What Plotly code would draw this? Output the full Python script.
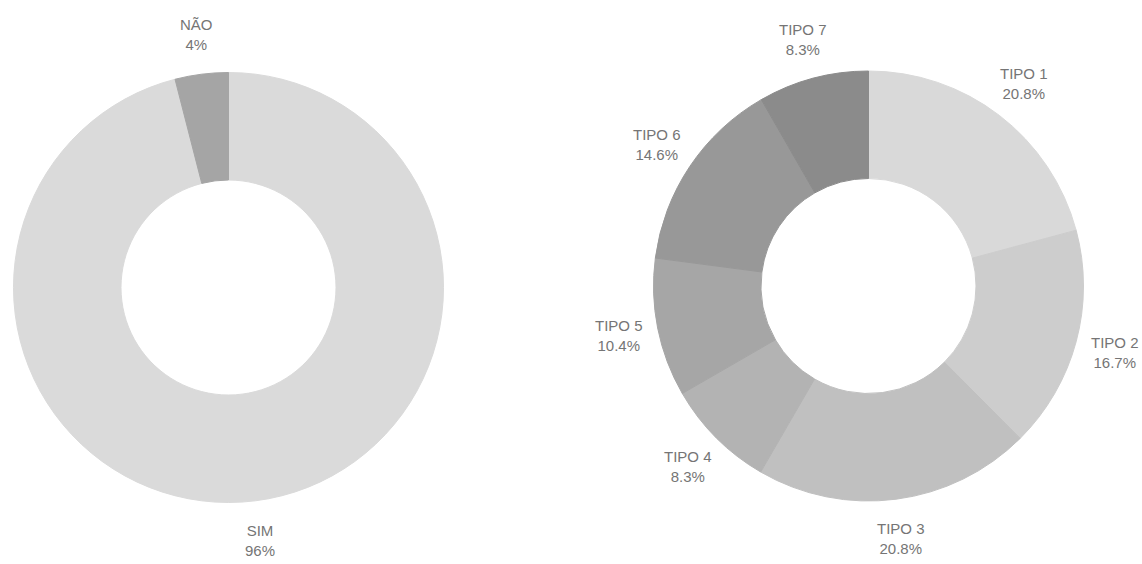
import math
import plotly.graph_objects as go

resp_labels = ["SIM", "NÃO"]
resp_values = [96, 4]
resp_text = ["96%", "4%"]
resp_colors = ["#dadada", "#a5a5a5"]

tipo_labels = ["TIPO 1", "TIPO 2", "TIPO 3", "TIPO 4", "TIPO 5", "TIPO 6", "TIPO 7"]
tipo_values = [20.8, 16.7, 20.8, 8.3, 10.4, 14.6, 8.3]
tipo_text = ["20.8%", "16.7%", "20.8%", "8.3%", "10.4%", "14.6%", "8.3%"]
tipo_colors = ["#d9d9d9", "#cdcdcd", "#c0c0c0", "#b3b3b3", "#a6a6a6", "#989898", "#8b8b8b"]

W, H = 1142, 564
font = dict(family="Liberation Sans, Arial, sans-serif", size=15, color="#757575")

# pie placement (pixels): centre x, centre y (from top), radius
left_geo = (228.5, 287.5, 215)
right_geo = (868.5, 286.0, 215)
LABEL_FACTOR = 1.185


def domain(geo):
    cx, cy, r = geo
    return dict(x=[(cx - r) / W, (cx + r) / W], y=[(H - cy - r) / H, (H - cy + r) / H])


def label_annotations(labels, values, texts, geo):
    cx, cy, r = geo
    total = sum(values)
    anns = []
    cum = 0.0
    for lab, v, t in zip(labels, values, texts):
        mid = (cum + v / 2) / total * 2 * math.pi
        cum += v
        x = cx + math.sin(mid) * r * LABEL_FACTOR
        y = cy - math.cos(mid) * r * LABEL_FACTOR
        anns.append(dict(
            x=x / W, y=1 - y / H, xref="paper", yref="paper",
            text=f"{lab}<br>{t}", showarrow=False, font=font,
            xanchor="center", yanchor="middle", align="center",
        ))
    return anns


fig = go.Figure()
fig.add_trace(go.Pie(
    labels=resp_labels, values=resp_values, hole=0.5, sort=False,
    direction="clockwise", rotation=0,
    marker=dict(colors=resp_colors, line=dict(width=1, color=resp_colors)),
    textinfo="none", domain=domain(left_geo),
    hoverinfo="label+percent", showlegend=False,
))
fig.add_trace(go.Pie(
    labels=tipo_labels, values=tipo_values, hole=0.5, sort=False,
    direction="clockwise", rotation=0,
    marker=dict(colors=tipo_colors, line=dict(width=1, color=tipo_colors)),
    textinfo="none", domain=domain(right_geo),
    hoverinfo="label+percent", showlegend=False,
))

annotations = (label_annotations(resp_labels, resp_values, resp_text, left_geo)
               + label_annotations(tipo_labels, tipo_values, tipo_text, right_geo))

fig.update_layout(
    width=W, height=H, margin=dict(l=0, r=0, t=0, b=0),
    paper_bgcolor="white", plot_bgcolor="white", font=font,
    annotations=annotations,
)
fig.write_html("out.html")
